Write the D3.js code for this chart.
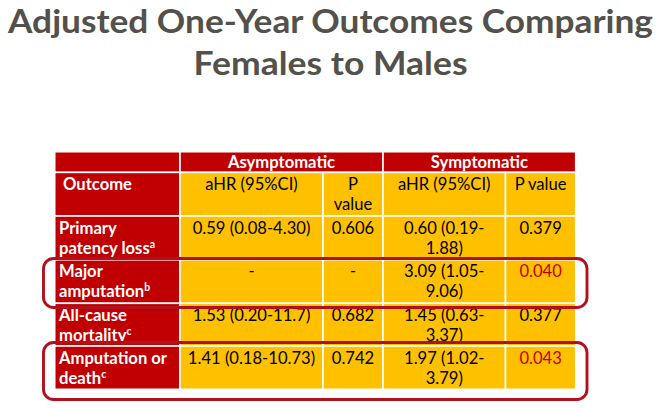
<!DOCTYPE html>
<html><head><meta charset="utf-8">
<script src="https://cdn.jsdelivr.net/npm/d3@7"></script>
<style>body{margin:0;background:#fff;} svg{display:block;}</style>
</head><body><svg id="c" width="667" height="409"></svg>
<script>
// ---- data ----
const titleLines = ["Adjusted One-Year Outcomes Comparing", "Females to Males"];
const groups = ["Asymptomatic", "Symptomatic"];
const columns = [" Outcome", "aHR (95%CI)", "P value", "aHR (95%CI)", "P value"];
const outcomes = ["Primary patency loss", "Major amputation", "All-cause mortality", "Amputation or death"];
const footnotes = ["a", "b", "c", "c"];
const asymHR = ["0.59 (0.08-4.30)", "-", "1.53 (0.20-11.7)", "1.41 (0.18-10.73)"];
const asymP = ["0.606", "-", "0.682", "0.742"];
const symHR = ["0.60 (0.19-1.88)", "3.09 (1.05-9.06)", "1.45 (0.63-3.37)", "1.97 (1.02-3.79)"];
const symP = ["0.379", "0.040", "0.377", "0.043"];
const significant = [false, true, false, true];
const highlighted = ["Major amputation", "Amputation or death"];

// ---- layout ----
const RED = "#C00000", YELLOW = "#FFC000", OUTLINE = "#B3101E", TITLE = "#53514A";
const FONT = "Lato, 'Open Sans', sans-serif";
const FS = 16.6;
const LINE = 20;
const x = d3.scaleLinear().domain([0,1,2,3,4,5]).range([54.7, 180, 323, 383, 505.5, 575.7]);
const y = d3.scaleLinear().domain([0,1,2,3,4,5,6]).range([151.7, 172.4, 216, 259.8, 303.3, 346, 389.3]);
const PAD = 6;
const hlPad = [[1.3, 4.2], [3.5, 10.2]];

const svg = d3.select("#c");

// title
const titleWidths = [645, 274];
svg.selectAll("text.title").data(titleLines).join("text")
  .attr("class", "title")
  .attr("x", 330.5).attr("y", (d, i) => 33.3 + i * 42)
  .attr("text-anchor", "middle")
  .attr("font-family", FONT).attr("font-weight", 700).attr("font-size", 32.3)
  .attr("fill", TITLE)
  .attr("textLength", (d, i) => titleWidths[i]).attr("lengthAdjust", "spacingAndGlyphs")
  .text(d => d);

// measuring helper
const meas = svg.append("text").attr("font-family", FONT).attr("font-size", FS).attr("visibility", "hidden");
function width(str, bold) {
  meas.attr("font-weight", bold ? 700 : 400).text(str);
  return meas.node().getComputedTextLength();
}
function wrap(str, maxW, bold) {
  const tokens = str.match(/[^\s-]*-|[^\s-]+|\s+/g) || [str];
  const lines = [];
  let cur = "", space = false;
  tokens.forEach(t => {
    if (/^\s+$/.test(t)) { if (cur !== "") space = true; else cur = t; return; }
    const cand = cur + (space ? " " : "") + t;
    if (cur.trim() !== "" && width(cand, bold) > maxW) { lines.push(cur); cur = t; }
    else cur = cand;
    space = false;
  });
  if (cur !== "") lines.push(cur);
  return lines;
}

// cells
const cells = [];
cells.push({c0: 0, c1: 1, r: 0, fill: RED});
groups.forEach((g, i) => cells.push({c0: 1 + 2 * i, c1: 3 + 2 * i, r: 0, fill: RED, text: g, bold: true, color: "#fff", anchor: "middle"}));
columns.forEach((c, i) => cells.push({c0: i, c1: i + 1, r: 1, fill: i === 0 ? RED : YELLOW, text: c,
  bold: i === 0, color: i === 0 ? "#fff" : "#000", anchor: i === 0 ? "start" : "middle"}));
outcomes.forEach((o, k) => {
  const r = k + 2;
  cells.push({c0: 0, c1: 1, r, fill: RED, text: o, sup: footnotes[k], bold: true, color: "#fff", anchor: "start"});
  [asymHR[k], asymP[k], symHR[k], symP[k]].forEach((v, j) => {
    cells.push({c0: j + 1, c1: j + 2, r, fill: YELLOW, text: v, bold: false,
      color: (j === 3 && significant[k]) ? RED : "#000", anchor: "middle"});
  });
});

const gCells = svg.append("g");
gCells.selectAll("rect").data(cells).join("rect")
  .attr("x", d => x(d.c0)).attr("y", d => y(d.r))
  .attr("width", d => x(d.c1) - x(d.c0)).attr("height", d => y(d.r + 1) - y(d.r))
  .attr("fill", d => d.fill).attr("stroke", "#fff").attr("stroke-width", 1.6);

const gText = svg.append("g").attr("font-family", FONT).attr("font-size", FS);
cells.filter(d => d.text !== undefined).forEach(d => {
  const x0 = x(d.c0), x1 = x(d.c1);
  const lines = wrap(d.text, x1 - x0 - 2 * PAD, d.bold);
  const tx = d.anchor === "middle" ? (x0 + x1) / 2 : x0 + 4.3;
  const base = y(d.r) + (d.r === 0 ? 16.6 : 17.5);
  const t = gText.append("text")
    .attr("x", tx).attr("y", base)
    .attr("text-anchor", d.anchor)
    .attr("font-weight", d.bold ? 700 : 400)
    .attr("fill", d.color)
    .style("white-space", "pre");
  lines.forEach((ln, i) => {
    t.append("tspan").attr("x", tx).attr("y", base + i * LINE).text(ln);
  });
  if (d.sup) t.append("tspan").attr("dy", -6).attr("font-size", 10.5).text(d.sup);
});
meas.remove();

// highlight outlines
svg.append("g").selectAll("rect").data(highlighted).join("rect")
  .attr("x", 43.5)
  .attr("y", (d, i) => y(outcomes.indexOf(d) + 2) - hlPad[i][0])
  .attr("width", 587 - 43.5)
  .attr("height", (d, i) => y(outcomes.indexOf(d) + 3) - y(outcomes.indexOf(d) + 2) + hlPad[i][0] + hlPad[i][1])
  .attr("rx", 10).attr("ry", 10)
  .attr("fill", "none").attr("stroke", OUTLINE).attr("stroke-width", 2.9);
</script></body></html>
